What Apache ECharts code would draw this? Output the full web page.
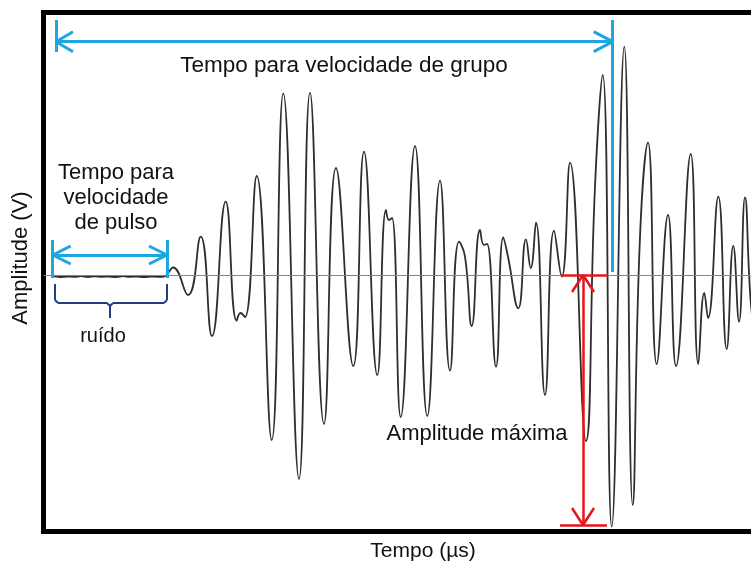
<!DOCTYPE html>
<html>
<head>
<meta charset="utf-8">
<script src="https://cdn.jsdelivr.net/npm/echarts@6/dist/echarts.min.js"></script>
<style>html,body{margin:0;padding:0;background:#fff;}#c{width:751px;height:563px;}</style>
</head>
<body>
<div id="c"></div>
<script>
// time (µs, arbitrary origin) of each sample
const timeValues = [
  0.95, 1.65, 2.35, 3.05, 3.75, 4.45, 5.15, 5.85, 6.55, 7.25, 7.95, 8.65, 9.35, 10.05, 10.75, 11.45, 12.05,
  12.45, 12.95, 14.45, 15.72, 16.85, 18.22, 19.32, 19.70, 20.15, 21.32, 22.82, 23.98, 25.55, 26.65, 28.05,
  29.25, 30.98, 32.05, 33.38, 34.25, 34.55, 34.85, 35.72, 37.15, 38.38, 39.65, 40.65, 41.55, 42.15, 42.82,
  43.65, 44.05, 44.35, 45.25, 45.98, 46.45, 47.48, 48.25, 48.72, 49.25, 50.15, 51.05, 51.82, 52.65, 54.25,
  55.15, 55.92, 56.82, 58.08, 58.92, 59.65, 60.45, 61.32, 62.45, 63.25, 64.72, 65.48, 66.08, 66.45, 67.48,
  68.32, 68.98, 69.55, 70.15, 70.75, 71.35
];
// amplitude (V) of each sample
const amplitudeValues = [
  -0.012, -0.02, -0.015, -0.018, -0.012, -0.02, -0.014, -0.018, -0.015, -0.02, -0.012, -0.018, -0.015, -0.02, -0.016, -0.018, -0.015,
  0.02, 0.075, -0.20, 0.383, -0.61, 0.733, -0.457, -0.38, -0.42, 0.99, -1.65, 1.817, -2.04, 1.823, -1.49,
  1.07, -0.91, 1.233, -1.00, 0.65, 0.55, 0.57, -1.42, 1.29, -1.41, 0.943, -0.957, 0.333, 0.183, -0.51,
  0.45, 0.30, 0.31, -0.917, 0.377, 0.183, -0.333, 0.357, 0.07, 0.523, -1.20, 0.443, -0.017, 1.123, -1.66,
  0.883, 2.00, -2.517, 2.283, -2.30, 0.383, 1.323, -0.89, 0.60, -0.91, 1.21, -0.89, -0.18, -0.43, 0.783,
  -0.74, 0.29, -0.467, 0.777, -0.30, -0.70
];
// axis ranges
const timeRange = [0, 70.75];
const amplitudeRange = [-2.56, 2.625];

// annotation marks in data coordinates: [[t1,a1],[t2,a2]]
const groupArrow = [
  [[1.25, 2.333], [56.92, 2.333]],
  [[1.25, 2.55], [1.25, 2.23]],
  [[56.92, 2.55], [56.92, 0.03]],
  [[1.25, 2.333], [2.95, 2.433]], [[1.25, 2.333], [2.95, 2.233]],
  [[56.92, 2.333], [55.02, 2.433]], [[56.92, 2.333], [55.02, 2.233]]
];
const pulseArrow = [
  [[0.92, 0.20], [12.35, 0.20]],
  [[0.92, 0.35], [0.92, -0.03]],
  [[12.35, 0.35], [12.35, -0.03]],
  [[0.92, 0.20], [2.72, 0.29]], [[0.92, 0.20], [2.72, 0.11]],
  [[12.35, 0.20], [10.55, 0.29]], [[12.35, 0.20], [10.55, 0.11]]
];
const noiseBrace = [
  [[1.15, -0.09], [1.15, -0.25]], [[1.15, -0.25], [1.45, -0.28]], [[1.45, -0.28], [6.35, -0.28]],
  [[6.35, -0.28], [6.65, -0.31]], [[6.65, -0.31], [6.65, -0.43]], [[6.65, -0.31], [6.95, -0.28]],
  [[6.95, -0.28], [12.05, -0.28]], [[12.05, -0.28], [12.35, -0.25]], [[12.35, -0.25], [12.35, -0.09]]
];
const maxAmpArrow = [
  [[51.75, 0], [56.45, 0]],
  [[51.65, -2.50], [56.35, -2.50]],
  [[53.95, 0], [53.95, -2.50]],
  [[53.95, 0], [52.85, -0.17]], [[53.95, 0], [55.05, -0.17]],
  [[53.95, -2.50], [52.85, -2.33]], [[53.95, -2.50], [55.05, -2.33]]
];
const baseline = [[[0, 0], [70.75, 0]]];

const waveData = timeValues.map((t, i) => [t, amplitudeValues[i]]);

function segs(list, color, width) {
  return list.map(s => [
    { coord: s[0], lineStyle: { color: color, width: width, type: 'solid' } },
    { coord: s[1] }
  ]);
}

const FONT = "'Liberation Sans', Arial, Helvetica, sans-serif";
const frameLine = { show: true, onZero: false, lineStyle: { color: '#000', width: 5, cap: 'square' } };
const hidden = { axisTick: { show: false }, axisLabel: { show: false }, splitLine: { show: false } };
const chart = echarts.init(document.getElementById('c'), null, { renderer: 'canvas' });
chart.setOption({
  animation: false,
  grid: { left: 43.5, right: 0, top: 12.5, bottom: 32, show: false },
  xAxis: [
    Object.assign({ type: 'value', position: 'bottom', min: timeRange[0], max: timeRange[1], axisLine: frameLine }, hidden),
    Object.assign({ type: 'value', position: 'top', min: timeRange[0], max: timeRange[1], axisLine: frameLine }, hidden)
  ],
  yAxis: Object.assign({ type: 'value', position: 'left', min: amplitudeRange[0], max: amplitudeRange[1], axisLine: frameLine }, hidden),
  series: [{
    type: 'line',
    data: waveData,
    smooth: 0.5,
    showSymbol: false,
    lineStyle: { color: '#2e2e2e', width: 1.8 },
    z: 3,
    markLine: {
      silent: true,
      symbol: ['none', 'none'],
      label: { show: false },
      z: 5,
      data: [].concat(
        segs(baseline, '#858585', 1),
        segs(groupArrow, '#1ea6de', 3),
        segs(pulseArrow, '#1ea6de', 3),
        segs(noiseBrace, '#23407e', 2),
        segs(maxAmpArrow, '#e4161d', 2.5)
      )
    }
  }],
  graphic: [
    { type: 'text', x: 344, y: 66, style: { text: 'Tempo para velocidade de grupo', font: '22.5px ' + FONT, fill: '#111', align: 'center', verticalAlign: 'middle' } },
    { type: 'text', x: 116, y: 198, style: { text: 'Tempo para\nvelocidade\nde pulso', font: '22px ' + FONT, lineHeight: 25, fill: '#111', align: 'center', verticalAlign: 'middle' } },
    { type: 'text', x: 103, y: 336, style: { text: 'ruído', font: '20px ' + FONT, fill: '#111', align: 'center', verticalAlign: 'middle' } },
    { type: 'text', x: 477, y: 434, style: { text: 'Amplitude máxima', font: '22px ' + FONT, fill: '#111', align: 'center', verticalAlign: 'middle' } },
    { type: 'text', x: 423, y: 551, style: { text: 'Tempo (µs)', font: '21px ' + FONT, fill: '#111', align: 'center', verticalAlign: 'middle' } },
    { type: 'text', x: 21, y: 258, rotation: Math.PI / 2, style: { text: 'Amplitude (V)', font: '22px ' + FONT, fill: '#111', align: 'center', verticalAlign: 'middle' } }
  ]
});
</script>
</body>
</html>
